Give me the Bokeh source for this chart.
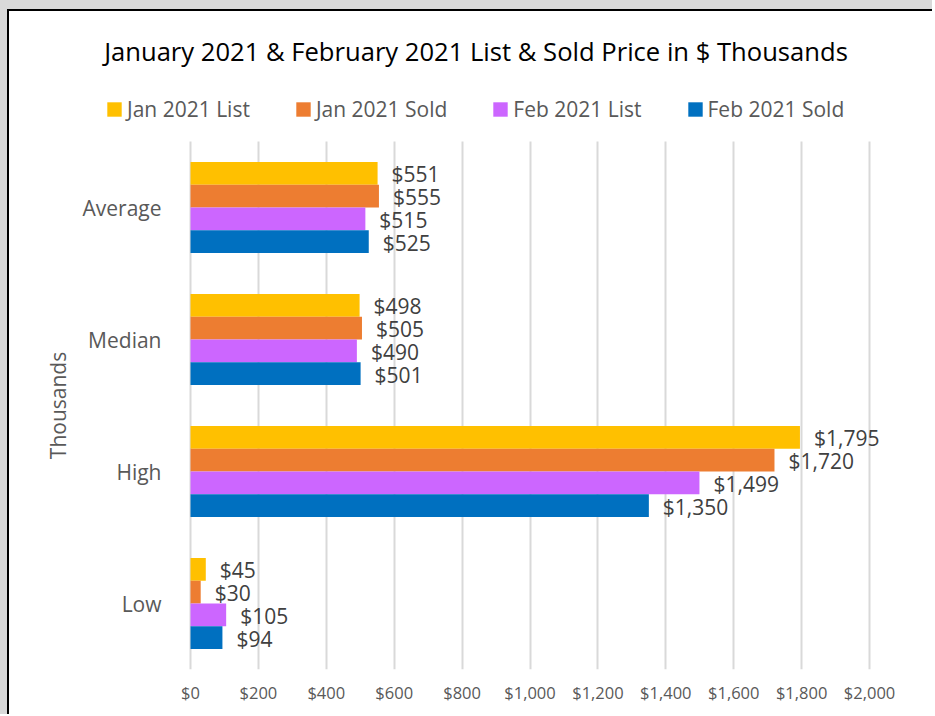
import math
from bokeh.plotting import figure
from bokeh.models import (ColumnDataSource, Range1d, FixedTicker, NumeralTickFormatter,
                          LabelSet, Label, Legend, LegendItem, Grid)
from bokeh.core.properties import value
from bokeh.embed import file_html
from bokeh.resources import INLINE

# ---- data (categories listed bottom to top) ----
categories = ["Low", "High", "Median", "Average"]
series_names = ["Jan 2021 List", "Jan 2021 Sold", "Feb 2021 List", "Feb 2021 Sold"]
jan_2021_list = [45, 1795, 498, 551]
jan_2021_sold = [30, 1720, 505, 555]
feb_2021_list = [105, 1499, 490, 515]
feb_2021_sold = [94, 1350, 501, 525]
x_ticks = [0, 200, 400, 600, 800, 1000, 1200, 1400, 1600, 1800, 2000]
title_text = "January 2021 & February 2021 List & Sold Price in $ Thousands"
y_title = "Thousands"

series_values = [jan_2021_list, jan_2021_sold, feb_2021_list, feb_2021_sold]
colors = ["#FFC000", "#ED7D31", "#CC66FF", "#0070C0"]
offsets = [0.258, 0.086, -0.086, -0.258]
bar_h = 0.172
n_cat = len(categories)

FONT = "Open Sans"

# the frame also spans the header and the left title area (so those texts are not clipped)
p = figure(width=925, height=705, output_backend="svg", toolbar_location=None,
           x_range=Range1d(-471.3, 2100), y_range=Range1d(0, 4.8788),
           min_border_left=21, min_border_right=31, min_border_top=14, min_border_bottom=47)
p.styles = {"border-left": "2px solid #000000", "border-top": "2px solid #000000",
            "margin-left": "7px", "margin-top": "9px",
            "box-shadow": "-7px -9px 0 0 #D9D9D9, 0 -9px 0 0 #D9D9D9, -7px 0 0 0 #D9D9D9"}
p.outline_line_color = None
p.background_fill_color = "white"
p.border_fill_color = "white"

# vertical grid lines limited to the category bands
if "cross_bounds" in Grid.properties():
    p.xgrid.cross_bounds = (0, n_cat)
    p.xgrid.grid_line_color = "#D9D9D9"
    p.xgrid.grid_line_width = 2
else:
    p.xgrid.grid_line_color = None
    p.segment(x0=x_ticks, x1=x_ticks, y0=[0] * len(x_ticks), y1=[n_cat] * len(x_ticks),
              line_color="#D9D9D9", line_width=2)
p.ygrid.grid_line_color = None

legend_items = []
for name, vals, col, off in zip(series_names, series_values, colors, offsets):
    ys = [i + 0.5 + off for i in range(n_cat)]
    src = ColumnDataSource(dict(y=ys, right=vals, txt=["${:,}".format(v) for v in vals]))
    r = p.hbar(y="y", left=0, right="right", height=bar_h, source=src,
               fill_color=col, line_color=None)
    legend_items.append(LegendItem(label=name, renderers=[r]))
    p.add_layout(LabelSet(x="right", y="y", text="txt", source=src, x_offset=14, y_offset=-1,
                          text_font=value(FONT), text_font_size=value("21px"),
                          text_color="#404040", text_baseline="middle", text_align="left"))

# axes
p.xaxis.ticker = FixedTicker(ticks=x_ticks)
p.xaxis.formatter = NumeralTickFormatter(format="$0,0")
p.xaxis.axis_line_color = None
p.xaxis.major_tick_line_color = None
p.xaxis.minor_tick_line_color = None
p.xaxis.major_label_standoff = 5
p.xaxis.major_label_text_font = FONT
p.xaxis.major_label_text_font_size = "16.5px"
p.xaxis.major_label_text_color = "#595959"

p.yaxis.ticker = FixedTicker(ticks=[i + 0.5 for i in range(n_cat)])
p.yaxis.major_label_overrides = {i + 0.5: c for i, c in enumerate(categories)}
p.yaxis.axis_line_color = None
p.yaxis.major_tick_line_color = None
p.yaxis.minor_tick_line_color = None
p.yaxis.major_label_standoff = -137
p.yaxis.major_label_text_font = FONT
p.yaxis.major_label_text_font_size = "21px"
p.yaxis.major_label_text_color = "#595959"

# y title (centred on the category bands)
p.add_layout(Label(x=27, y=264, x_units="screen", y_units="screen", text=y_title,
                   angle=math.pi / 2, text_font=FONT, text_font_size="21px",
                   text_color="#595959", text_align="center", text_baseline="middle"))

# chart title
p.add_layout(Label(x=445.5, y=618, x_units="screen", y_units="screen", text=title_text,
                   text_font=FONT, text_font_size="25.6px", text_color="#000000",
                   text_align="center", text_baseline="alphabetic"))

legend = Legend(items=legend_items, orientation="horizontal", location=(75, 546),
                glyph_width=18, glyph_height=18, label_standoff=4, spacing=44,
                padding=0, margin=0, border_line_color=None, background_fill_alpha=0,
                label_text_font=FONT, label_text_font_size="21px", label_text_color="#595959")
p.add_layout(legend, "center")

open("out.html", "w").write(file_html(p, INLINE))
